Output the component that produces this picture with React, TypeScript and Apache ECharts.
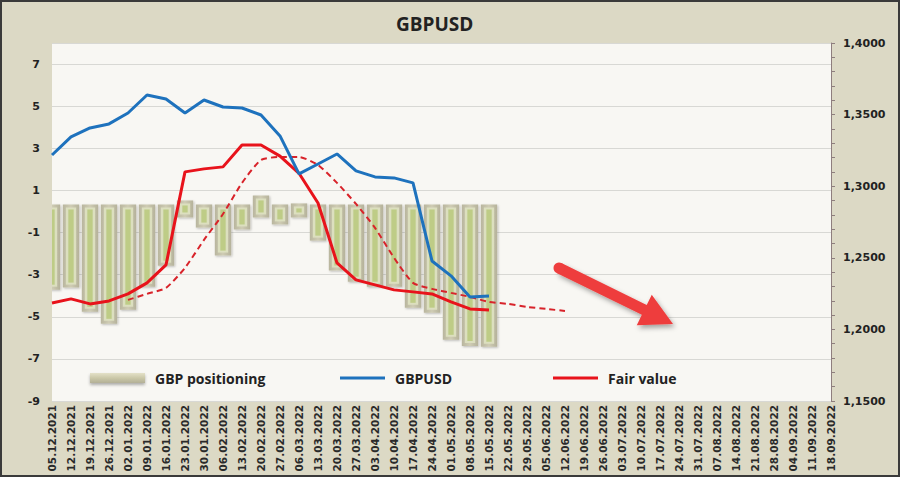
import React, { useEffect, useRef } from 'react';
import * as echarts from 'echarts';

// weekly dates on the x axis
const categories = [
  '05.12.2021', '12.12.2021', '19.12.2021', '26.12.2021', '02.01.2022', '09.01.2022',
  '16.01.2022', '23.01.2022', '30.01.2022', '06.02.2022', '13.02.2022', '20.02.2022',
  '27.02.2022', '06.03.2022', '13.03.2022', '20.03.2022', '27.03.2022', '03.04.2022',
  '10.04.2022', '17.04.2022', '24.04.2022', '01.05.2022', '08.05.2022', '15.05.2022',
  '22.05.2022', '29.05.2022', '05.06.2022', '12.06.2022', '19.06.2022', '26.06.2022',
  '03.07.2022', '10.07.2022', '17.07.2022', '24.07.2022', '31.07.2022', '07.08.2022',
  '14.08.2022', '21.08.2022', '28.08.2022', '04.09.2022', '11.09.2022', '18.09.2022',
];

// GBP positioning (left axis)
const positioning = [
  -3.43, -3.33, -4.48, -5.05, -4.38, -3.29, -2.29, 0.19, -0.48, -1.81, -0.57, 0.43,
  -0.33, 0.05, -1.1, -2.52, -3.05, -3.29, -3.29, -4.29, -4.52, -5.81, -6.1, -6.14,
];

// GBPUSD spot (right axis)
const gbpusd = [
  1.3218, 1.3344, 1.3407, 1.3435, 1.3511, 1.3637, 1.3609, 1.3511, 1.3602, 1.3553, 1.3546, 1.3497,
  1.3351, 1.3086, 1.3155, 1.3225, 1.3107, 1.3065, 1.3058, 1.3023, 1.2478, 1.2374, 1.2227, 1.2234,
];

// fair value (right axis)
const fairValue = [
  1.2185, 1.2213, 1.2178, 1.2199, 1.2248, 1.2325, 1.245, 1.31, 1.3121, 1.3135, 1.3288, 1.3288,
  1.321, 1.309, 1.2883, 1.2464, 1.2346, 1.2311, 1.2276, 1.2262, 1.2248, 1.2192, 1.2143, 1.2136,
];

// fair value trend, dashed (right axis)
const fairTrend = [
  null, null, null, null, 1.2206, 1.2248, 1.229, 1.243, 1.2625, 1.2806, 1.3023, 1.3183,
  1.3204, 1.3204, 1.3148, 1.3023, 1.2876, 1.2709, 1.25, 1.2325, 1.2283, 1.2255, 1.2227, 1.2192,
  1.2178, 1.2157, 1.2143, 1.2129,
];

const FONT = 'DejaVu Sans';
const LEGEND_FONT = 'Open Sans';

// arrow annotation polygon
function arrowPoints(sx: number, sy: number, tx: number, ty: number) {
  const dx = tx - sx;
  const dy = ty - sy;
  const len = Math.sqrt(dx * dx + dy * dy);
  const ux = dx / len;
  const uy = dy / len;
  const nx = -uy;
  const ny = ux;
  const w = 5.5;
  const h = 17;
  const hl = 32;
  const bx = tx - ux * hl;
  const by = ty - uy * hl;
  return [
    [sx + nx * w, sy + ny * w],
    [bx + nx * w, by + ny * w],
    [bx + nx * h, by + ny * h],
    [tx, ty],
    [bx - nx * h, by - ny * h],
    [bx - nx * w, by - ny * w],
    [sx - nx * w, sy - ny * w],
  ];
}

const renderBar = (params: any, api: any) => {
  const i = api.value(0);
  const v = api.value(1);
  const p0 = api.coord([i, 0]);
  const p1 = api.coord([i, v]);
  const w = api.size([1, 0])[0] * 0.86;
  const top = Math.min(p0[1], p1[1]) - 7;
  const bottom = Math.max(p0[1], p1[1]) + 6;
  const x = p0[0] - w / 2;
  const h = bottom - top;
  return {
    type: 'group',
    children: [
      {
        type: 'rect',
        shape: { x, y: top, width: w, height: h },
        style: {
          fill: new echarts.graphic.LinearGradient(0, 0, 1, 0, [
            { offset: 0, color: '#B9B69E' },
            { offset: 0.5, color: '#CFCCB4' },
            { offset: 1, color: '#B5B29A' },
          ]),
          shadowBlur: 2,
          shadowColor: 'rgba(0,0,0,0.25)',
          shadowOffsetX: 1,
          shadowOffsetY: 1,
        },
      },
      {
        type: 'rect',
        shape: { x: x + 3, y: top + 3, width: w - 6, height: h - 6 },
        style: { fill: '#DCDFBF' },
      },
      {
        type: 'rect',
        shape: { x: x + 5.5, y: top + 5, width: w - 11, height: h - 10 },
        style: { fill: '#BECC86' },
      },
    ],
  };
};

const App: React.FC = () => {
  const chartRef = useRef<HTMLDivElement>(null);

  useEffect(() => {
    if (!chartRef.current) return undefined;
    const chart = echarts.init(chartRef.current, null, { renderer: 'svg' });

    const legendText = {
      fontFamily: LEGEND_FONT,
      fontWeight: 'bold' as const,
      fontSize: 14,
      color: '#222',
      lineHeight: 16,
      padding: [0, 0, 0, 5],
    };

    const options: any = {
      animation: false,
      backgroundColor: '#DCD9C5',
      title: {
        text: 'GBPUSD',
        left: 391,
        top: 9,
        textStyle: { fontFamily: LEGEND_FONT, fontWeight: 'bold', fontSize: 19, color: '#222' },
      },
      grid: {
        left: 52,
        right: 69,
        top: 43,
        bottom: 76,
        show: true,
        backgroundColor: '#F8F7F3',
        borderWidth: 0,
      },
      legend: [
        {
          data: [
            {
              name: 'GBP positioning',
              icon: 'rect',
              itemStyle: {
                color: new echarts.graphic.LinearGradient(0, 0, 0, 1, [
                  { offset: 0, color: '#E4E1C8' },
                  { offset: 0.5, color: '#CBC8A8' },
                  { offset: 1, color: '#B3B096' },
                ]),
                shadowBlur: 3,
                shadowColor: 'rgba(0,0,0,0.3)',
                shadowOffsetY: 2,
              },
            },
          ],
          left: 90,
          top: 370,
          padding: 0,
          itemWidth: 55,
          itemHeight: 10,
          selectedMode: false,
          textStyle: legendText,
        },
        {
          data: [{ name: 'GBPUSD', icon: 'rect' }],
          left: 340,
          top: 370,
          padding: 0,
          itemWidth: 45,
          itemHeight: 3,
          selectedMode: false,
          textStyle: legendText,
        },
        {
          data: [{ name: 'Fair value', icon: 'rect' }],
          left: 553,
          top: 370,
          padding: 0,
          itemWidth: 45,
          itemHeight: 3,
          selectedMode: false,
          textStyle: legendText,
        },
      ],
      xAxis: {
        type: 'category',
        data: categories,
        boundaryGap: false,
        axisLine: { show: false },
        axisTick: { show: false },
        axisLabel: {
          interval: 0,
          rotate: 90,
          margin: 4,
          fontFamily: FONT,
          fontWeight: 'bold',
          fontSize: 10.5,
          color: '#2A2A2A',
        },
        splitLine: { show: false },
      },
      yAxis: [
        {
          type: 'value',
          min: -9,
          max: 8,
          interval: 2,
          position: 'left',
          axisLine: { show: false },
          axisTick: { show: false },
          axisLabel: {
            showMaxLabel: false,
            margin: 12,
            fontFamily: FONT,
            fontWeight: 'bold',
            fontSize: 11,
            color: '#222',
          },
          splitLine: { show: true, lineStyle: { color: '#D8D8D4', width: 1 } },
        },
        {
          type: 'value',
          min: 1.15,
          max: 1.4,
          interval: 0.05,
          position: 'right',
          axisLine: { show: true, lineStyle: { color: '#8E7E7E', width: 1 } },
          axisTick: { show: true, length: 4, lineStyle: { color: '#8E7E7E' } },
          minorTick: { show: true, splitNumber: 5, length: 4, lineStyle: { color: '#8E7E7E' } },
          axisLabel: {
            margin: 12,
            fontFamily: FONT,
            fontWeight: 'bold',
            fontSize: 11,
            color: '#222',
            formatter: (v: number) => v.toFixed(4).replace('.', ','),
          },
          splitLine: { show: false },
        },
      ],
      graphic: [
        {
          type: 'polygon',
          z: 50,
          shape: { points: arrowPoints(559, 268, 673, 324) },
          style: {
            fill: '#EE3E3E',
            shadowBlur: 5,
            shadowColor: 'rgba(0,0,0,0.35)',
            shadowOffsetX: 2,
            shadowOffsetY: 3,
          },
        },
        {
          type: 'circle',
          z: 50,
          shape: { cx: 559, cy: 268, r: 5.5 },
          style: { fill: '#EE3E3E' },
        },
        {
          type: 'rect',
          z: 100,
          shape: { x: 1, y: 1, width: 898, height: 475 },
          style: { fill: 'none', stroke: '#3A3A3A', lineWidth: 2 },
          silent: true,
        },
      ],
      series: [
        {
          name: 'GBP positioning',
          type: 'custom',
          yAxisIndex: 0,
          clip: true,
          renderItem: renderBar,
          itemStyle: { color: '#CBC8A8' },
          encode: { x: 0, y: 1 },
          data: positioning.map((v, i) => [i, v]),
          z: 1,
        },
        {
          name: 'Fair trend',
          type: 'line',
          yAxisIndex: 1,
          symbol: 'none',
          smooth: 0.2,
          lineStyle: { color: '#D8232A', width: 2, type: [6, 4] },
          data: fairTrend,
          z: 3,
        },
        {
          name: 'Fair value',
          type: 'line',
          yAxisIndex: 1,
          symbol: 'none',
          itemStyle: { color: '#E8131B' },
          lineStyle: { color: '#E8131B', width: 3 },
          data: fairValue,
          z: 4,
        },
        {
          name: 'GBPUSD',
          type: 'line',
          yAxisIndex: 1,
          symbol: 'none',
          itemStyle: { color: '#1E72BD' },
          lineStyle: { color: '#1E72BD', width: 3 },
          data: gbpusd,
          z: 5,
        },
      ],
    };

    chart.setOption(options);
    return () => {
      chart.dispose();
    };
  }, []);

  return (
    <div
      ref={chartRef}
      style={{ position: 'fixed', left: 0, top: 0, width: '900px', height: '477px' }}
    />
  );
};

export default App;
